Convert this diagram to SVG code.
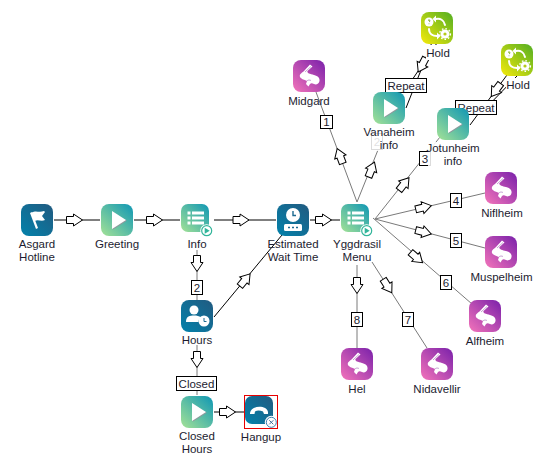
<svg xmlns="http://www.w3.org/2000/svg" width="546" height="465" viewBox="0 0 546 465">
<style>
text{font-family:"Liberation Sans",Arial,sans-serif;font-size:11.5px;fill:#1c1c30;text-anchor:middle}
.c{fill:none;stroke:#7a7a7a;stroke-width:1}
.k{fill:none;stroke:#000;stroke-width:1}
.a{fill:#fff;stroke:#000;stroke-width:1;stroke-linejoin:miter}
.lb{fill:#fff;stroke:#000;stroke-width:1}
.halo{fill:#fff;fill-opacity:.86}
.solid{fill:#fff}
.w{fill:#fff}
.ws{fill:none;stroke:#fff;stroke-linecap:round}
</style>
<defs>
<linearGradient id="gb" x1="0" y1="1" x2="1" y2="0"><stop offset="0" stop-color="#0382ab"/><stop offset="1" stop-color="#215a80"/></linearGradient>
<linearGradient id="gt" x1="0" y1="1" x2="1" y2="0"><stop offset="0" stop-color="#a4e296"/><stop offset="1" stop-color="#0f97b4"/></linearGradient>
<linearGradient id="gp" x1="0" y1="1" x2="1" y2="0"><stop offset="0" stop-color="#f374ba"/><stop offset="1" stop-color="#7a20aa"/></linearGradient>
<linearGradient id="gh" x1="0" y1="1" x2="1" y2="0"><stop offset="0" stop-color="#f6ea0a"/><stop offset="1" stop-color="#52ae22"/></linearGradient>
<polygon id="ar" class="a" points="-8,-3.500 -1,-3.500 -1,-6 8,0 -1,6 -1,3.500 -8,3.500"/>
<g id="play"><rect width="32" height="32" rx="8" fill="url(#gt)"/><polygon points="11,7 11,25 25,16" fill="#8d9a9d" transform="translate(.8 .8)"/><polygon class="w" points="11,7 11,25 25,16"/></g>
<g id="scroll"><rect width="32" height="32" rx="8" fill="url(#gp)"/><path class="w" d="M17,4.500 L19.500,6.500 L14.500,11 C13.500,13 17,14 21,15 C25,16 27,18 26.500,21 C26,24 23,25 21,24 C19,23 18,23 17,24 L15.500,26.500 L13,24 L14,21 C12,20 8,19 7,17 C6,14 9,13 11,11 Z"/><path d="M12,12 L18,6.500 M14,21 C15,19.500 17,20 18,20.500" stroke="#b78cc8" stroke-width=".8" fill="none"/></g>
<g id="list"><rect width="28" height="28" rx="7" fill="url(#gt)"/><g class="w"><rect x="6.500" y="7.500" width="3" height="3"/><rect x="11" y="7.500" width="12" height="3"/><rect x="6.500" y="12.500" width="3" height="3"/><rect x="11" y="12.500" width="12" height="3"/><rect x="6.500" y="17.500" width="3" height="3"/><rect x="11" y="17.500" width="12" height="3"/></g></g>
<g id="hold"><rect width="32" height="32" rx="8" fill="url(#gh)"/><circle class="w" cx="8" cy="10" r="4.500"/><path d="M7,8.500 Q8,7 9,8.500 Q9,9.500 8,10 M8,11.500 L8,12.200" stroke="#7aa51e" fill="none"/><path class="ws" stroke-width="2" d="M15,7 C19,6 23,8 24,13"/><polygon class="w" points="15,3.500 15,10.500 11.500,7"/><path class="ws" stroke-width="2" d="M8,17 C8,22 12,24 16,24"/><polygon class="w" points="16,20.500 16,27.500 19.500,24"/><circle class="w" cx="24" cy="22" r="4.500"/><circle cx="24" cy="22" r="1.600" fill="#b5cb18"/><circle cx="24" cy="22" r="5.400" fill="none" stroke="#fff" stroke-width="1.400" stroke-dasharray="1.600 2"/></g>
<g id="badge"><circle cx="0" cy="0" r="6.500" fill="#fff"/><circle cx="0" cy="0" r="5" fill="none" stroke="#32b59a" stroke-width="1.200"/><polygon points="-2,-3 -2,3 3,0" fill="#32b59a"/></g>
</defs>
<g id="connectors">
<path class="k" d="M54,220H100M134,220H180M214,220H276M310,220H340"/>
<path class="c" d="M197,250V300M197,345V395"/>
<path class="k" d="M214,412H244"/>
<path class="k" d="M214,317L282,235"/>
<path class="c" d="M316,92L357,202"/>
<path class="c" d="M357,202L382,140"/>
<path class="c" d="M375,219L440,137"/>
<path class="c" d="M375,219L485,193"/>
<path class="c" d="M375,219L485,248"/>
<path class="c" d="M373,218L472,304"/>
<path class="c" d="M372,262L427,348"/>
<path class="c" d="M357,265V348"/>
<path class="k" d="M431.700,43L406,108"/>
<path class="k" d="M437,43L412,80"/>
<path class="k" d="M507,75L470,125"/>
<path class="k" d="M517,76L482,112"/>
<use href="#ar" transform="translate(74.500 220)"/>
<use href="#ar" transform="translate(154.500 220)"/>
<use href="#ar" transform="translate(241 220)"/>
<use href="#ar" transform="translate(323.500 220)"/>
<use href="#ar" transform="translate(197 263.500) rotate(90)"/>
<use href="#ar" transform="translate(197 359.500) rotate(90)"/>
<use href="#ar" transform="translate(227.500 412)"/>
<use href="#ar" transform="translate(245 280) rotate(-50.500)"/>
<use href="#ar" transform="translate(340 156) rotate(-110.500)"/>
<use href="#ar" transform="translate(371.500 169.500) rotate(-68)"/>
<use href="#ar" transform="translate(404 184) rotate(-51.500)"/>
<use href="#ar" transform="translate(423.500 207.500) rotate(-13.500)"/>
<use href="#ar" transform="translate(423.500 232) rotate(14)"/>
<use href="#ar" transform="translate(416.500 257.500) rotate(41)"/>
<use href="#ar" transform="translate(387.500 286) rotate(57.500)"/>
<use href="#ar" transform="translate(357 285.500) rotate(90)"/>
<use href="#ar" transform="translate(422 65) rotate(118)"/>
<use href="#ar" transform="translate(496 90) rotate(126)"/>
</g>
<g id="labels">
<rect class="lb" x="320.500" y="115.500" width="12" height="13"/><text x="326.500" y="126">1</text>
<rect class="lb" x="191.500" y="280.500" width="11" height="14"/><text x="197" y="292">2</text>
<rect class="lb" x="371.500" y="133.500" width="11" height="16"/><text x="377" y="146">2</text>
<rect class="lb" x="419.500" y="151.500" width="11" height="14"/><text x="425" y="163">3</text>
<rect class="lb" x="450.500" y="193.500" width="11" height="14"/><text x="456" y="205">4</text>
<rect class="lb" x="450.500" y="233.500" width="11" height="14"/><text x="456" y="245">5</text>
<rect class="lb" x="440.500" y="275.500" width="11" height="14"/><text x="446" y="287">6</text>
<rect class="lb" x="402.500" y="312.500" width="11" height="14"/><text x="408" y="324">7</text>
<rect class="lb" x="351.500" y="312.500" width="11" height="14"/><text x="357" y="324">8</text>
<rect class="lb" x="176.500" y="376.500" width="40" height="14"/><text x="196.500" y="388">Closed</text>
<rect class="lb" x="385.500" y="78.500" width="41" height="14"/><text x="406" y="90">Repeat</text>
<rect class="lb" x="455.500" y="100.500" width="41" height="14"/><text x="476" y="112">Repeat</text>
</g>
<g id="asgard"><g transform="translate(21 204)"><rect width="32" height="32" rx="8" fill="url(#gb)"/><path class="w" d="M9,9 L11,8 L17,24 L15,25 Z M11,8.500 C15,6 18,9 23,7 L24,8 L21,12 L24,16 C20,18 17,15 14,17 Z"/></g><text x="37" y="248">Asgard</text><text x="37" y="261">Hotline</text></g>
<g id="greeting"><use href="#play" x="101" y="204"/><text x="117" y="248">Greeting</text></g>
<g id="info"><use href="#list" x="181" y="204"/><use href="#badge" x="206.700" y="230.700"/><text x="197" y="248">Info</text></g>
<g id="wait"><g transform="translate(277 204)"><rect width="32" height="32" rx="8" fill="url(#gb)"/><circle class="w" cx="16" cy="11" r="7"/><path d="M16,7V11.500H19" stroke="#1d6a90" stroke-width="1.400" fill="none"/><rect class="w" x="7" y="20" width="18" height="7" rx="1.500"/><path d="M11,23.500h2M15,23.500h2M19,23.500h2" stroke="#1d6a90" stroke-width="1.500"/></g><text x="293" y="248">Estimated</text><text x="293" y="261">Wait Time</text></g>
<g id="yggdrasil"><use href="#list" x="341" y="204"/><use href="#badge" x="366.700" y="230.700"/><text x="357" y="248">Yggdrasil</text><text x="357" y="261">Menu</text></g>
<g id="hours"><g transform="translate(181 300)"><rect width="32" height="32" rx="8" fill="url(#gb)"/><circle class="w" cx="13" cy="10" r="4.500"/><path class="w" d="M5,22 C5,16 9,15.500 13,15.500 C16,15.500 18,16 20,17.500 C18,19 17.500,20 17.500,22 Z"/><circle class="w" cx="23" cy="21" r="5.500"/><path d="M23,18V21.500H25.500" stroke="#1d6a90" fill="none"/></g><text x="197" y="344">Hours</text></g>
<g id="closed-hours"><use href="#play" x="181" y="396"/><text x="197" y="440">Closed</text><text x="197" y="453">Hours</text></g>
<g id="hangup"><g transform="translate(245 396)"><rect width="28" height="28" rx="7" fill="url(#gb)"/><path class="w" d="M5,17 C6,9 22,9 23,16 L23,18 L19,18 L18,15.500 C15,14 12,14 10,15.500 L9.500,18 L5,18 Z"/><circle cx="26.300" cy="26.300" r="6.500" fill="#fff"/><circle cx="26.300" cy="26.300" r="5" fill="none" stroke="#3d7fb0"/><path d="M24.300,24.300l4,4M28.300,24.300l-4,4" stroke="#3d6f9a"/></g><rect x="244.500" y="395.500" width="33" height="33" fill="none" stroke="#e80000"/><text x="261" y="441">Hangup</text></g>
<g id="midgard"><use href="#scroll" x="293" y="60"/><text x="309" y="105">Midgard</text></g>
<g id="vanaheim"><use href="#play" x="373" y="92"/><rect class="halo" x="365" y="126" width="49" height="25"/><text x="389" y="136">Vanaheim</text><text x="389" y="149">info</text></g>
<g id="hold1"><use href="#hold" x="421" y="12"/><rect class="solid" x="426" y="45" width="24" height="15"/><text x="438" y="57">Hold</text></g>
<g id="hold2"><use href="#hold" x="501" y="44"/><rect class="solid" x="506" y="78" width="24" height="14"/><text x="518" y="89">Hold</text></g>
<g id="jotunheim"><use href="#play" x="437" y="108"/><rect class="halo" x="428" y="142" width="50" height="26"/><text x="453" y="152">Jotunheim</text><text x="453" y="165">info</text></g>
<g id="niflheim"><use href="#scroll" x="485" y="172"/><text x="502" y="217">Niflheim</text></g>
<g id="muspelheim"><use href="#scroll" x="485" y="236"/><text x="501.500" y="281">Muspelheim</text></g>
<g id="alfheim"><use href="#scroll" x="469" y="300"/><text x="485" y="345">Alfheim</text></g>
<g id="nidavellir"><use href="#scroll" x="421" y="348"/><text x="437" y="393">Nidavellir</text></g>
<g id="hel"><use href="#scroll" x="341" y="348"/><text x="357" y="393">Hel</text></g>
</svg>
